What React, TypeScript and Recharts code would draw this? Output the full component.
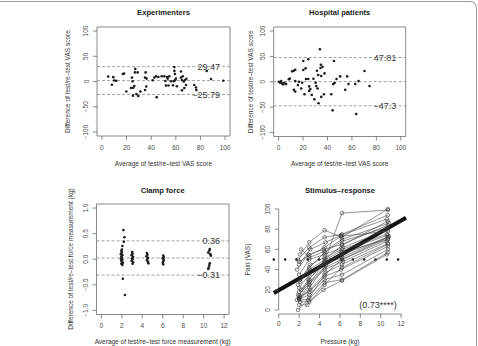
import { ComposedChart, ReferenceArea, ReferenceLine, Scatter, XAxis, YAxis } from "recharts";

const FONT = '"Liberation Sans", Arial, Helvetica, sans-serif';
const INK = "#1c1c1c";
const AXIS = "#6b6b6b";
const TICK_TEXT = "#4a4a4a";
const DASH = "#8c8c8c";

// Experimenters: [average, difference] of test/re-test VAS score
const experimenterPoints: Array<[number, number]> = [
  [5.1, 9.9], [8.1, -6.5], [9.2, 8.6], [10, 2], [11.6, 1.3], [17, 15], [18, 16],
  [19.8, -19.8], [23.6, -13], [24.4, 7.7], [24.9, 0.4], [25.4, -12.5], [25.2, -28],
  [26.3, -9], [27.1, 25], [26.8, 18], [29, 18], [28, -25], [29.5, -28.7], [31.2, -20],
  [35, 7.7], [35.5, 18], [36.3, 5.7], [35, -16.7], [36, -10], [41.2, 2.4], [42.6, 7.7],
  [44, 10.4], [44.5, -31], [45.8, 9], [48.5, 10.4], [50.7, 10.4], [51.5, 1], [52, -8],
  [52.9, 9], [53.4, 5.7], [54, -8], [54.7, 10.4], [56, 0.4], [57.7, -7.3], [58.3, 0.4],
  [58.8, 28.5], [58.8, 21], [59.3, 15], [60.1, 5.7], [59.3, 2.4], [60.9, -9.5],
  [64.2, 19.8], [64.2, 7.7], [65, 3], [65.6, 10.4], [66.4, 0], [65, -17.5], [66.9, -13],
  [67.5, 3], [68.3, -7], [68.6, 5.4], [75, -7], [76.4, -11.8], [76.7, -17], [85.1, 21],
  [88.6, 5], [98.6, 1.5],
];
const experimenterLimits = [29.47, -25.79];

// Hospital patients: [average, difference] of test/re-test VAS score
const patientPoints: Array<[number, number]> = [
  [0.2, 0], [1.3, -2], [2.1, 1.3], [2.9, -3.3], [3.7, -5.3], [4.8, -2], [6.1, -4.6],
  [8.4, 5], [9.2, 6.4], [11.1, 20.5], [12.5, 21.8], [13.6, 23.8], [12.5, -16], [13.6, -19.4],
  [13.6, 1.3], [15.8, -6.6], [16.6, 0], [18.5, -13.3], [19.3, -2], [20.2, 41], [20.2, 23.1],
  [21.2, -24.6], [22.1, 26.4], [22.4, 5.3], [24.3, 44.3], [24.3, 5.3], [25, -18], [25, -9.2],
  [26, -14.5], [27.1, -25.9], [28.5, 6], [29.3, -34.5], [30.3, -2], [30.8, -8.6], [31.4, 21.8],
  [31.9, -13.3], [32.4, 13.2], [32.7, -42.5], [33.8, 64], [34.3, 27], [34.6, 33.6],
  [34.9, 11.2], [34.9, -29.9], [36, 29.7], [37.6, 16.5], [37.1, -24.6], [43.1, -24.6],
  [44.2, -56.4], [44.7, -4.6], [45.3, 41], [45.8, -2.6], [47.4, 5.3], [50.4, 10.6],
  [54.5, -16], [56.1, 10.6], [57.2, -4.6], [62.7, -4.6], [63.5, -63.6], [65.4, 1.3],
  [70.3, 21.1], [74.4, -8.6],
];
const patientLimits = [47.81, -47.3];

// Clamp force: [average, difference] of test/re-test force measurement (kg)
const clampPoints: Array<[number, number]> = [
  [2.15, 0.57], [2.25, 0.43], [2.2, 0.34], [2.05, 0.26], [2.0, 0.19], [1.95, 0.16],
  [2.0, 0.13], [1.9, 0.1], [2.05, 0.08], [1.95, 0.05], [2.0, 0.03], [1.9, 0.01],
  [2.05, -0.01], [1.95, -0.03], [2.0, -0.05], [2.1, -0.07], [1.95, -0.09], [2.05, -0.11],
  [2.1, -0.38], [2.3, -0.7],
  [3.0, 0.14], [3.05, 0.11], [2.95, 0.08], [3.1, 0.05], [3.0, 0.02], [3.05, 0.0],
  [2.95, -0.03], [3.1, -0.06], [3.05, -0.09],
  [4.45, 0.12], [4.5, 0.09], [4.4, 0.06], [4.55, 0.03], [4.5, 0.01], [4.45, -0.02],
  [4.55, -0.05], [4.6, -0.08],
  [6.05, 0.07], [6.1, 0.04], [6.0, 0.02], [6.1, -0.01], [6.05, -0.04], [6.0, -0.07], [6.05, -0.1],
  [10.45, 0.13], [10.55, 0.17], [10.6, 0.2], [10.65, 0.1], [10.7, 0.07], [10.6, -0.08],
  [10.55, -0.12], [10.5, -0.16], [10.45, -0.19],
];
const clampLimits = [0.36, -0.31];

const vasTicksX = [0, 20, 40, 60, 80, 100];
const vasTicksY = [-100, -50, 0, 50, 100];
const kgTicks = [0, 2, 4, 6, 8, 10, 12];
const clampTicksY = [-1, -0.5, 0, 0.5, 1];
const painTicks = [0, 20, 40, 60, 80, 100];

// Stimulus-response: one list per subject, [pressure kg, pain VAS]
const subjects: Array<Array<[number, number]>> = [
  [[2.0, 12], [3.0, 25], [4.5, 48], [6.2, 96], [10.7, 99]],
  [[2.1, 55], [3.0, 67], [4.5, 79], [6.2, 72], [10.7, 100]],
  [[1.9, 50], [3.0, 62], [4.5, 72], [6.2, 75], [10.7, 94]],
  [[2.0, 45], [3.1, 60], [4.6, 67], [6.1, 74], [10.6, 90]],
  [[2.2, 60], [3.0, 52], [4.5, 58], [6.2, 70], [10.8, 86]],
  [[1.8, 40], [2.9, 55], [4.4, 60], [6.2, 65], [10.7, 84]],
  [[2.0, 35], [3.0, 50], [4.5, 55], [6.3, 62], [10.7, 80]],
  [[2.1, 30], [3.1, 45], [4.5, 52], [6.2, 60], [10.6, 75]],
  [[1.9, 25], [3.0, 40], [4.6, 50], [6.1, 58], [10.7, 74]],
  [[2.0, 22], [3.0, 35], [4.5, 47], [6.2, 55], [10.7, 72]],
  [[2.2, 20], [2.9, 30], [4.4, 45], [6.2, 52], [10.8, 73]],
  [[2.0, 18], [3.0, 28], [4.5, 42], [6.2, 50], [10.7, 70]],
  [[1.9, 15], [3.0, 26], [4.5, 40], [6.3, 48], [10.6, 68]],
  [[2.1, 13], [3.1, 20], [4.6, 37], [6.2, 45], [10.7, 66]],
  [[2.0, 12], [3.0, 18], [4.5, 33], [6.1, 40], [10.7, 63]],
  [[1.8, 10], [3.0, 15], [4.5, 30], [6.2, 35], [10.7, 60]],
  [[2.0, 10], [2.9, 10], [4.5, 27], [6.2, 30], [10.7, 57]],
  [[2.1, 8], [3.0, 8], [4.4, 20], [6.2, 29], [10.6, 55]],
  [[2.0, 5], [2.8, 5], [4.5, 25], [6.2, 42], [10.7, 65]],
  [[1.9, 0], [3.0, 12], [4.5, 35], [6.2, 50], [10.7, 72]],
  [[2.0, 14], [3.0, 30], [4.5, 50], [6.2, 64], [10.7, 88]],
  [[2.1, 28], [3.0, 42], [4.5, 57], [6.2, 68], [10.7, 82]],
  [[2.0, 48], [3.0, 54], [4.5, 62], [6.1, 73], [10.7, 78]],
  [[2.0, 11], [3.0, 22], [4.6, 44], [6.2, 57], [10.7, 70]],
];
const regression = { intercept: 19.5, slope: 5.75 };
const correlationLabel = "(0.73****)";
const painReference = 50;

const Y_W = 30;
const X_H = 25;

type Cell = { left: number; top: number; width: number; height: number };
type Box = { x0: number; x1: number; y0: number; y1: number };

const marginsFor = (cell: Cell, box: Box) => ({
  left: box.x0 - cell.left - Y_W,
  top: box.y0 - cell.top,
  right: cell.left + cell.width - box.x1,
  bottom: cell.top + cell.height - box.y1 - X_H,
});

const withMinus = (v: number, s: string) => (v < 0 ? "\u2212" + s.replace("-", "") : s);
const fmtPlain = (v: number) => withMinus(v, String(v));
const fmtOneDec = (v: number) => withMinus(v, v.toFixed(1));

const xTick = (fmt: (v: number) => string) => (p: any) => (
  <text x={p.x} y={p.y} dy="0.71em" textAnchor="middle" fontSize={6.5} fill={TICK_TEXT} fontFamily={FONT}>
    {fmt(p.payload.value)}
  </text>
);

const yTick = (fmt: (v: number) => string) => (p: any) => (
  <text
    x={p.x}
    y={p.y}
    transform={`rotate(-90 ${p.x} ${p.y})`}
    textAnchor="middle"
    fontSize={6.5}
    fill={TICK_TEXT}
    fontFamily={FONT}
  >
    {fmt(p.payload.value)}
  </text>
);

const Dot = (p: any) => <circle cx={p.cx} cy={p.cy} r={1.3} fill={INK} />;
const OpenDot = (p: any) => <circle cx={p.cx} cy={p.cy} r={1.8} fill="none" stroke="#333" strokeWidth={0.6} />;

interface BlandAltmanProps {
  cell: Cell;
  box: Box;
  points: Array<[number, number]>;
  limits: number[];
  xDomain: [number, number];
  yDomain: [number, number];
  xTicks: number[];
  yTicks: number[];
  yFmt: (v: number) => string;
  labelOffset: number;
}

function BlandAltman({ cell, box, points, limits, xDomain, yDomain, xTicks, yTicks, yFmt, labelOffset }: BlandAltmanProps) {
  const data = points.map(([x, y]) => ({ x, y }));
  const mean = (limits[0] + limits[1]) / 2;
  return (
    <div style={{ position: "absolute", left: cell.left, top: cell.top }}>
      <ComposedChart width={cell.width} height={cell.height} margin={marginsFor(cell, box)}>
        <XAxis
          type="number"
          dataKey="x"
          domain={xDomain}
          ticks={xTicks}
          allowDataOverflow
          interval={0}
          axisLine={false}
          tickLine={{ stroke: AXIS, strokeWidth: 0.8 }}
          tickSize={4}
          tickMargin={5}
          height={X_H}
          tick={xTick(fmtPlain)}
        />
        <YAxis
          type="number"
          dataKey="y"
          domain={yDomain}
          ticks={yTicks}
          allowDataOverflow
          interval={0}
          axisLine={false}
          tickLine={{ stroke: AXIS, strokeWidth: 0.8 }}
          tickSize={4}
          tickMargin={4.5}
          width={Y_W}
          tick={yTick(yFmt)}
        />
        <ReferenceArea
          x1={xDomain[0]}
          x2={xDomain[1]}
          y1={yDomain[0]}
          y2={yDomain[1]}
          fill="none"
          stroke={AXIS}
          strokeWidth={0.8}
          ifOverflow="visible"
        />
        <ReferenceLine y={mean} stroke={DASH} strokeWidth={0.8} strokeDasharray="3 2" />
        {limits.map((v) => (
          <ReferenceLine
            key={v}
            y={v}
            stroke={DASH}
            strokeWidth={0.8}
            strokeDasharray="3 2"
            label={{ value: fmtPlain(v), position: "insideRight", offset: labelOffset, fill: "#3a3a3a", fontSize: 9, fontFamily: FONT }}
          />
        ))}
        <Scatter data={data} shape={Dot} isAnimationActive={false} />
      </ComposedChart>
    </div>
  );
}

function StimulusResponse() {
  const cell: Cell = { left: 239, top: 173, width: 239, height: 173 };
  const box: Box = { x0: 278.7, x1: 406, y0: 205, y1: 314 };
  const reg = (x: number) => regression.intercept + regression.slope * x;
  return (
    <div style={{ position: "absolute", left: cell.left, top: cell.top }}>
      <ComposedChart width={cell.width} height={cell.height} margin={marginsFor(cell, box)}>
        <XAxis
          type="number"
          dataKey="x"
          domain={[0, 12.48]}
          ticks={kgTicks}
          allowDataOverflow
          interval={0}
          axisLine={false}
          tickLine={{ stroke: AXIS, strokeWidth: 0.8 }}
          tickSize={4}
          tickMargin={3}
          height={X_H}
          tick={xTick(fmtPlain)}
        />
        <YAxis
          type="number"
          dataKey="y"
          domain={[-4, 104]}
          ticks={painTicks}
          allowDataOverflow
          interval={0}
          axisLine={false}
          tickLine={{ stroke: AXIS, strokeWidth: 0.8 }}
          tickSize={4}
          tickMargin={4.5}
          width={Y_W}
          tick={yTick(fmtPlain)}
        />
        <ReferenceLine segment={[{ x: 0, y: 0 }, { x: 0, y: 100 }]} stroke={AXIS} strokeWidth={0.8} />
        <ReferenceLine segment={[{ x: 0, y: -4 }, { x: 12, y: -4 }]} stroke={AXIS} strokeWidth={0.8} />
        <ReferenceLine
          segment={[{ x: -0.48, y: painReference }, { x: 12.48, y: painReference }]}
          ifOverflow="visible"
          stroke={INK}
          strokeWidth={2.6}
          strokeLinecap="round"
          strokeDasharray="0 11.3"
        />
        {subjects.map((s, i) => (
          <Scatter
            key={i}
            data={s.map(([x, y]) => ({ x, y }))}
            line={{ stroke: "#4a4a4a", strokeWidth: 0.6 }}
            shape={OpenDot}
            isAnimationActive={false}
          />
        ))}
        <ReferenceLine
          segment={[{ x: -0.48, y: reg(-0.48) }, { x: 12.48, y: reg(12.48) }]}
          ifOverflow="visible"
          stroke="#111"
          strokeWidth={4}
        />
      </ComposedChart>
    </div>
  );
}

export default function App() {
  const title = { fontSize: 7.6, fontWeight: 700, fill: "#1a1a1a", fontFamily: FONT, textAnchor: "middle" as const };
  const lab = { fontSize: 6.5, fill: "#333", fontFamily: FONT, textAnchor: "middle" as const };
  return (
    <div style={{ position: "fixed", left: 0, top: 0, width: 478, height: 346, overflow: "hidden", background: "#fff" }}>
      <div
        style={{
          position: "absolute",
          left: -12,
          top: 1,
          width: 489,
          height: 400,
          boxSizing: "border-box",
          borderTop: "1px solid #9a9a9a",
          borderRight: "1px solid #9a9a9a",
          borderTopRightRadius: 7,
        }}
      />
      <BlandAltman
        cell={{ left: 0, top: 0, width: 239, height: 173 }}
        box={{ x0: 97, x1: 230, y0: 27, y1: 136 }}
        points={experimenterPoints}
        limits={experimenterLimits}
        xDomain={[-4, 104]}
        yDomain={[-108, 108]}
        xTicks={vasTicksX}
        yTicks={vasTicksY}
        yFmt={fmtPlain}
        labelOffset={10}
      />
      <BlandAltman
        cell={{ left: 239, top: 0, width: 239, height: 173 }}
        box={{ x0: 273.7, x1: 405.7, y0: 27, y1: 136.5 }}
        points={patientPoints}
        limits={patientLimits}
        xDomain={[-4, 104]}
        yDomain={[-108, 108]}
        xTicks={vasTicksX}
        yTicks={vasTicksY}
        yFmt={fmtPlain}
        labelOffset={9.5}
      />
      <BlandAltman
        cell={{ left: 0, top: 173, width: 239, height: 173 }}
        box={{ x0: 96.5, x1: 229, y0: 204, y1: 314.5 }}
        points={clampPoints}
        limits={clampLimits}
        xDomain={[-0.48, 12.48]}
        yDomain={[-1.08, 1.08]}
        xTicks={kgTicks}
        yTicks={clampTicksY}
        yFmt={fmtOneDec}
        labelOffset={9}
      />
      <StimulusResponse />
      <svg width={478} height={346} style={{ position: "absolute", left: 0, top: 0, pointerEvents: "none" }}>
        <text x={163.5} y={15} {...title}>Experimenters</text>
        <text x={339.7} y={15} {...title}>Hospital patients</text>
        <text x={162.7} y={192.5} {...title}>Clamp force</text>
        <text x={340} y={192.5} {...title}>Stimulus–response</text>

        <text x={163.5} y={165.8} {...lab}>Average of test/re–test VAS score</text>
        <text x={339.7} y={165.8} {...lab}>Average of test/re–test VAS score</text>
        <text x={162.7} y={344.3} {...lab}>Average of test/re–test force measurement (kg)</text>
        <text x={340} y={344.3} {...lab}>Pressure (kg)</text>

        <text x={70.3} y={81.5} transform="rotate(-90 70.3 81.5)" {...lab}>Difference of test/re–test VAS score</text>
        <text x={253} y={81.8} transform="rotate(-90 253 81.8)" {...lab}>Difference of test/re–test VAS score</text>
        <text x={73} y={259} transform="rotate(-90 73 259)" {...lab}>Difference of test/re–test force measurement (kg)</text>
        <text x={250.3} y={259.5} transform="rotate(-90 250.3 259.5)" {...lab}>Pain (VAS)</text>

        <text x={378} y={308.2} fontSize={9} fill="#333" fontFamily={FONT} textAnchor="middle">{correlationLabel}</text>
      </svg>
    </div>
  );
}
